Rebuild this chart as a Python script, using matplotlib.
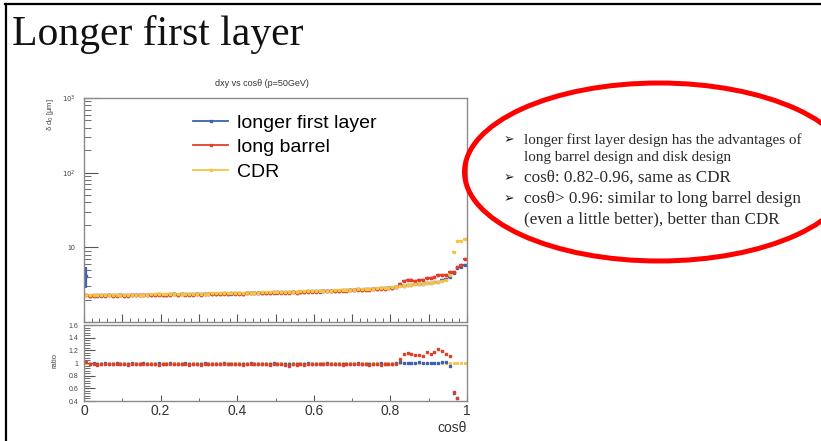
import numpy as np
import matplotlib
matplotlib.use("Agg")
import matplotlib.pyplot as plt
from matplotlib.patches import Ellipse
from matplotlib.lines import Line2D
from matplotlib.ticker import MultipleLocator, LogLocator, FuncFormatter, NullFormatter

# Binning in cos(theta): 100 bins of width 0.01
bin_width = 0.01
cos_theta = np.arange(100) * bin_width + bin_width / 2

# dxy resolution [um] for the CDR layout
cdr = [2.30, 2.28, 2.28, 2.29, 2.29, 2.30, 2.30, 2.30, 2.31, 2.31,
       2.31, 2.32, 2.32, 2.32, 2.33, 2.33, 2.33, 2.34, 2.34, 2.35,
       2.35, 2.35, 2.36, 2.36, 2.37, 2.37, 2.37, 2.38, 2.38, 2.39,
       2.39, 2.40, 2.40, 2.41, 2.41, 2.42, 2.42, 2.43, 2.44, 2.44,
       2.45, 2.45, 2.46, 2.47, 2.47, 2.48, 2.49, 2.49, 2.50, 2.51,
       2.52, 2.52, 2.53, 2.54, 2.55, 2.56, 2.57, 2.58, 2.58, 2.59,
       2.60, 2.61, 2.62, 2.63, 2.64, 2.66, 2.67, 2.68, 2.69, 2.71,
       2.72, 2.74, 2.75, 2.77, 2.78, 2.80, 2.82, 2.84, 2.86, 2.88,
       2.92, 2.96, 3.05, 3.06, 3.10, 3.14, 3.18, 3.22, 3.27, 3.30,
       3.36, 3.42, 3.48, 3.58, 3.70, 4.25, 8.60, 12.0, 12.3, 13.0]

# ratio to CDR for the long barrel layout
ratio_long_barrel = [1.01, 0.98, 0.99, 0.97, 0.99, 0.98, 0.99, 0.98, 0.98, 0.99,
                     0.98, 0.97, 0.99, 0.98, 0.99, 0.98, 0.98, 0.99, 0.98, 0.97,
                     0.99, 0.98, 0.98, 0.99, 0.98, 0.99, 0.98, 0.97, 0.98, 0.99,
                     0.97, 0.98, 0.99, 0.98, 0.98, 0.99, 0.98, 0.98, 0.99, 0.98,
                     0.98, 0.97, 0.98, 0.99, 0.98, 0.98, 0.99, 0.98, 0.97, 0.98,
                     0.99, 0.98, 0.97, 0.96, 0.98, 0.97, 0.98, 0.97, 0.98, 0.98,
                     0.98, 0.99, 0.98, 0.98, 0.99, 0.98, 0.98, 0.97, 0.98, 0.99,
                     0.98, 0.98, 0.99, 0.98, 0.97, 0.98, 0.98, 0.97, 0.98, 0.98,
                     0.99, 0.99, 1.06, 1.15, 1.16, 1.15, 1.12, 1.13, 1.11, 1.17,
                     1.15, 1.18, 1.22, 1.19, 1.15, 1.11, 0.55, 0.45, 0.47, 0.53]

# ratio to CDR for the longer first layer layout
ratio_longer_first = [1.80, 0.99, 1.00, 0.99, 0.98, 1.00, 0.99, 0.99, 1.00, 0.99,
                      0.99, 0.98, 1.00, 0.99, 0.99, 1.00, 0.99, 0.98, 0.99, 1.00,
                      0.99, 0.99, 1.00, 0.99, 0.98, 0.99, 1.00, 0.99, 0.99, 0.98,
                      0.99, 1.00, 0.99, 0.99, 0.98, 0.99, 1.00, 0.99, 0.98, 0.99,
                      0.99, 0.98, 0.99, 1.00, 0.99, 0.99, 0.98, 0.99, 0.99, 1.00,
                      0.98, 0.99, 0.99, 0.98, 0.99, 0.98, 0.99, 0.99, 1.00, 0.99,
                      0.99, 0.98, 0.99, 1.00, 0.99, 0.99, 0.98, 0.99, 0.99, 0.98,
                      0.99, 1.00, 0.99, 0.99, 0.98, 0.99, 0.99, 1.00, 0.99, 0.99,
                      0.99, 1.00, 1.02, 1.00, 1.00, 1.00, 1.00, 1.01, 1.00, 1.00,
                      1.00, 1.00, 1.00, 1.01, 1.01, 0.95, 0.52, 0.44, 0.45, 0.45]

legend_labels = ["longer first layer", "long barrel", "CDR"]
bullets = ["longer first layer design has the advantages of",
           "long barrel design and disk design",
           "cos\u03b8: 0.82-0.96, same as CDR",
           "cos\u03b8> 0.96: similar to long barrel design",
           "(even a little better), better than CDR"]

cdr = np.array(cdr)
long_barrel = cdr * np.array(ratio_long_barrel)
longer_first = cdr * np.array(ratio_longer_first)

c_blue = "#3f62b0"
c_red = "#e0402a"
c_yellow = "#f6c443"
frame_c = "#8a8a8a"

W, H = 821, 441
fig = plt.figure(figsize=(W / 100, H / 100), dpi=100)


def fx(px):
    return px / W


def fy(py):
    return 1 - py / H


# slide frame
fig.add_artist(Line2D([fx(5), 1], [fy(4), fy(4)], color="black", lw=1.6, transform=fig.transFigure))
fig.add_artist(Line2D([fx(6), fx(6)], [0, fy(4)], color="black", lw=1.6, transform=fig.transFigure))

fig.text(fx(12), fy(45), "Longer first layer", family="Liberation Serif", fontsize=30,
         va="baseline", ha="left", color="#111111")

ax = fig.add_axes([fx(84), fy(322), fx(467) - fx(84), fy(98) - fy(322)])
axr = fig.add_axes([fx(84), fy(401), fx(467) - fx(84), fy(325) - fy(401)])

yerr_blue = longer_first * 0.01
yerr_blue[0] = 1.3
series = [(longer_first, yerr_blue, c_blue, 2.0),
          (long_barrel, long_barrel * 0.01, c_red, 1.8),
          (cdr, cdr * 0.01, c_yellow, 1.8)]
draw_order = [0, 1, 2]
for i in draw_order:
    vals, err, col, msz = series[i]
    ax.errorbar(cos_theta, vals, xerr=bin_width / 2, yerr=err, fmt="s", ms=msz, color=col,
                elinewidth=1.6, capsize=0, mec=col)
# red markers stay visible on top of the CDR band
ax.plot(cos_theta, long_barrel, "s", ms=1.4, color=c_red)

ax.set_yscale("log")
ax.set_xlim(0, 1)
ax.set_ylim(1, 1000)
ax.yaxis.set_major_locator(LogLocator(base=10, subs=[1.0]))
ax.yaxis.set_minor_locator(LogLocator(base=10, subs=np.arange(2, 10)))
ax.yaxis.set_major_formatter(FuncFormatter(
    lambda v, p: "10" if abs(v - 10) < 1e-6 else ("$10^{%d}$" % round(np.log10(v)) if v > 10 else "")))
ax.yaxis.set_minor_formatter(NullFormatter())
ax.xaxis.set_major_locator(MultipleLocator(0.1))
ax.xaxis.set_minor_locator(MultipleLocator(0.02))
ax.xaxis.set_major_formatter(NullFormatter())
ax.tick_params(axis="y", which="major", direction="in", length=10, width=0.8, color="#555555",
               labelsize=5, labelcolor="#444444", pad=6)
ax.tick_params(axis="y", which="minor", direction="in", length=5, width=0.6, color="#555555")
ax.tick_params(axis="x", which="major", direction="in", length=6, width=0.8, color="#555555")
ax.tick_params(axis="x", which="minor", direction="in", length=3, width=0.6, color="#555555")

handles = [Line2D([], [], color=c, lw=1.3, marker="s", ms=1.5) for c in (c_blue, c_red, c_yellow)]
ax.legend(handles, legend_labels, loc="upper left", bbox_to_anchor=(fx(193), fy(114)),
          bbox_transform=fig.transFigure, frameon=False, prop={"family": "Liberation Sans", "size": 14},
          handlelength=1.8, handletextpad=0.45, labelspacing=0.36, borderpad=0, borderaxespad=0)

fig.text(fx(262), fy(83), "dxy vs cos\u03b8 (p=50GeV)", family="Liberation Sans", fontsize=6.5,
         ha="center", va="center", color="#333333")
fig.text(fx(50), fy(98), "\u03b4 d$_0$ [\u03bcm]", family="Liberation Sans", fontsize=5.5,
         rotation=90, ha="center", va="top", color="#444444")

# ratio panel
ratio_range = cos_theta < 0.98
xr = cos_theta[ratio_range]
axr.plot(cos_theta, cdr / cdr, "s", ms=1.2, color=c_yellow)
axr.plot(xr, (longer_first / cdr)[ratio_range], "s", ms=2, color=c_blue)
axr.plot(xr, (long_barrel / cdr)[ratio_range], "s", ms=2, color=c_red)
axr.set_xlim(0, 1)
axr.set_ylim(0.4, 1.6)
axr.yaxis.set_major_locator(MultipleLocator(0.2))
axr.yaxis.set_minor_locator(MultipleLocator(0.04))
axr.yaxis.set_major_formatter(FuncFormatter(lambda v, p: "%g" % round(v, 1)))
axr.xaxis.set_major_locator(MultipleLocator(0.2))
axr.xaxis.set_minor_locator(MultipleLocator(0.1))
axr.xaxis.set_major_formatter(FuncFormatter(lambda v, p: "%g" % round(v, 1)))
axr.tick_params(axis="y", which="major", direction="in", length=8, width=0.8, color="#555555",
                labelsize=5, labelcolor="#444444", pad=4)
axr.tick_params(axis="y", which="minor", direction="in", length=4, width=0.6, color="#555555")
axr.tick_params(axis="x", which="major", direction="in", length=4, width=0.8, color="#555555",
                labelsize=10, labelcolor="#333333", pad=2)
axr.tick_params(axis="x", which="minor", direction="in", length=2, width=0.6, color="#555555")
for lab in axr.get_xticklabels() + axr.get_yticklabels() + ax.get_yticklabels():
    lab.set_family("Liberation Sans")
fig.text(fx(55), fy(360), "ratio", family="Liberation Sans", fontsize=5.5, rotation=90,
         ha="center", va="center", color="#444444")
fig.text(fx(467), fy(428), "cos\u03b8", family="Liberation Sans", fontsize=10,
         ha="right", va="center", color="#333333")

for a in (ax, axr):
    for s in a.spines.values():
        s.set_color(frame_c)
        s.set_linewidth(1.0)

# comment box on the right
line_y = [140, 158, 178, 199, 219]
line_size = [10.9, 10.9, 12.3, 12.3, 12.3]
has_bullet = [True, False, True, True, False]
for txt, y, sz, b in zip(bullets, line_y, line_size, has_bullet):
    fig.text(fx(524), fy(y), txt, family="Liberation Serif", fontsize=sz, ha="left", va="center",
             color="#2a2a2a")
    if b:
        fig.text(fx(509), fy(y), "\u27a2", family=["DejaVu Sans"], fontsize=9, ha="center",
                 va="center", color="#111111")

fig.add_artist(Ellipse((fx(659), fy(172)), width=389 / W, height=178 / H, transform=fig.transFigure,
                       fill=False, ec="#ff0000", lw=3.6))

fig.savefig("out.png", dpi=100)
